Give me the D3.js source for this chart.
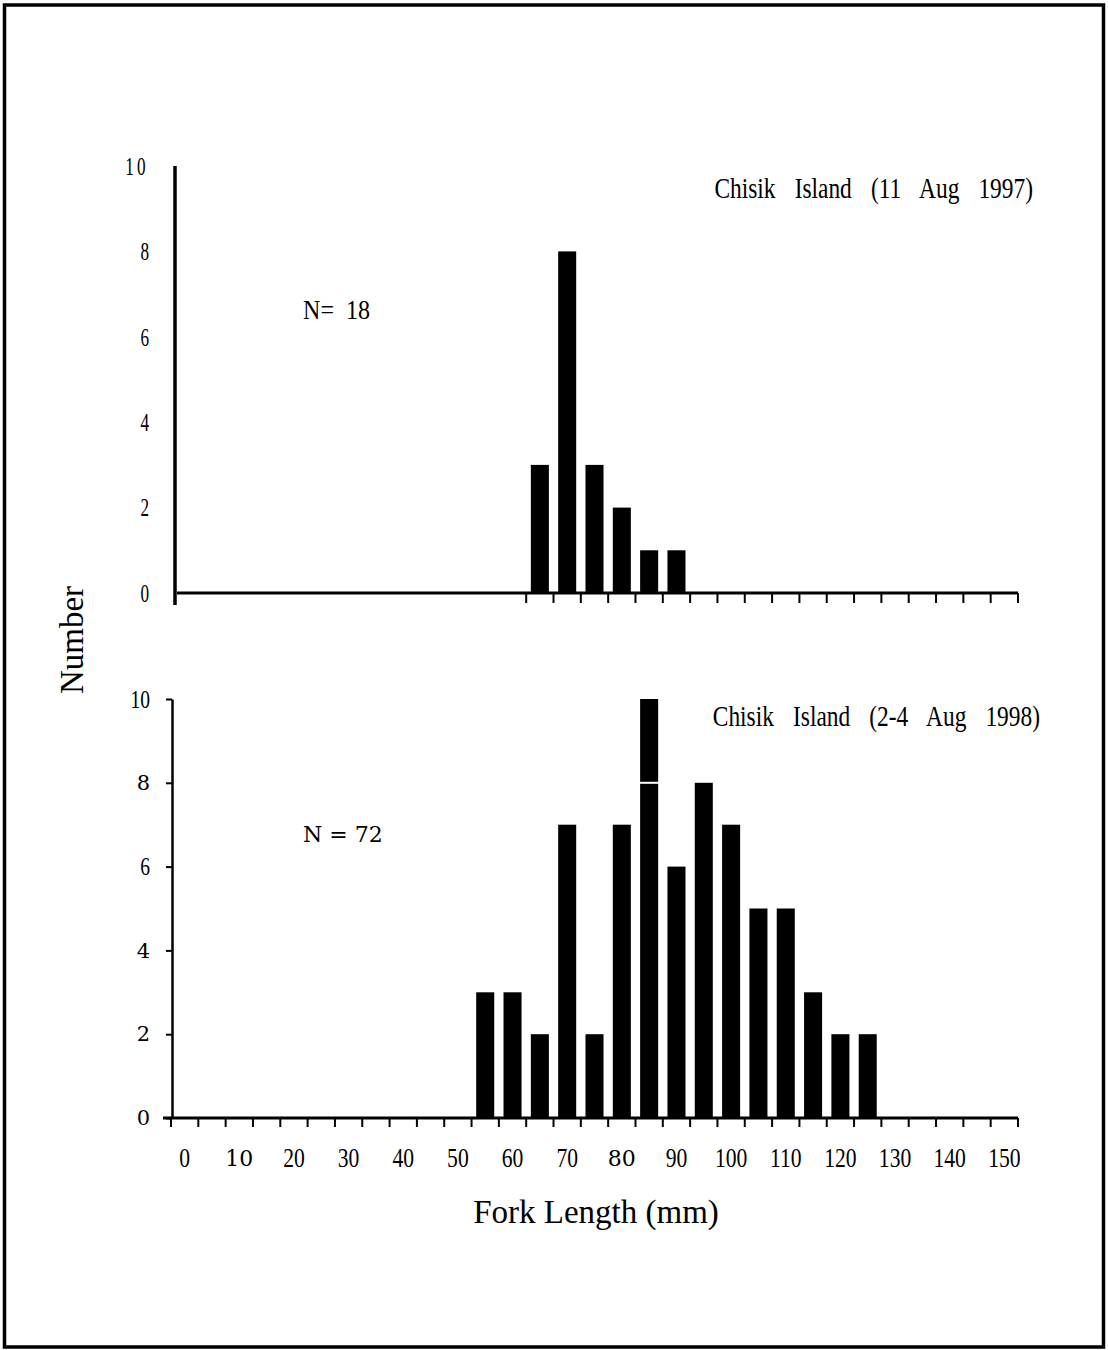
<!DOCTYPE html>
<html>
<head>
<meta charset="utf-8">
<script src="https://cdn.jsdelivr.net/npm/d3@7"></script>
<style>
  body { margin: 0; background: #fff; }
  svg { display: block; }
  text { font-family: "Liberation Serif", "Times New Roman", serif; fill: #000; }
</style>
</head>
<body>
<svg width="1108" height="1350"></svg>
<script>
// 5 mm fork-length bins (lower edge of each bin)
const bins = d3.range(0, 155, 5);
const binLabels = [0, 10, 20, 30, 40, 50, 60, 70, 80, 90, 100, 110, 120, 130, 140, 150];
const yTicks = [0, 2, 4, 6, 8, 10];

// Chisik Island, 11 Aug 1997
const lengths1997 = [65, 70, 75, 80, 85, 90];
const counts1997 = [3, 8, 3, 2, 1, 1];

// Chisik Island, 2-4 Aug 1998
const lengths1998 = [55, 60, 65, 70, 75, 80, 85, 90, 95, 100, 105, 110, 115, 120, 125];
const counts1998 = [3, 3, 2, 7, 2, 7, 10, 6, 8, 7, 5, 5, 3, 2, 2];

const svg = d3.select("svg");
const HEAVY_FONT = "\"DejaVu Serif\", serif";
const THIN_FONT = "\"Liberation Serif\", serif";

// page frame
svg.append("rect")
    .attr("x", 4.5).attr("y", 5)
    .attr("width", 1099).attr("height", 1342)
    .attr("fill", "none").attr("stroke", "#000").attr("stroke-width", 3.5);

const x = d3.scaleBand()
    .domain(bins)
    .range([171, 1018])
    .paddingInner(0.34)
    .paddingOuter(0.17);
const binStart = b => x(b) - x.step() * 0.17;
const xEnd = x.range()[1];

// condensed text helper: text drawn inside a translated group, squeezed horizontally
function squeezed(parent, px, py, str, size, sx, anchor) {
    return parent.append("g")
        .attr("transform", `translate(${px},${py})`)
        .append("text")
        .attr("transform", `scale(${sx},1)`)
        .attr("text-anchor", anchor || "start")
        .style("font-size", size + "px")
        .text(str);
}

// ---------- upper panel (1997) ----------
const yTop = d3.scaleLinear().domain([0, 10]).range([593, 166]);
const upper = svg.append("g");

upper.append("line")
    .attr("x1", 175).attr("x2", 175)
    .attr("y1", yTop(10)).attr("y2", yTop(0) + 12)
    .attr("stroke", "#000").attr("stroke-width", 3.5);

const upperAxis = upper.append("g")
    .attr("transform", "translate(149,0)")
    .call(d3.axisLeft(yTop).tickValues(yTicks).tickSize(0).tickPadding(0));
upperAxis.select(".domain").remove();
upperAxis.selectAll("text")
    .attr("transform", "scale(0.66,1)")
    .style("font-size", "26px")
    .style("letter-spacing", d => d >= 10 ? "5px" : null)
    .style("font-family", THIN_FONT);

upper.append("line")
    .attr("x1", 177).attr("x2", xEnd)
    .attr("y1", yTop(0)).attr("y2", yTop(0))
    .attr("stroke", "#000").attr("stroke-width", 3);

const upperEdges = bins.filter(b => b >= lengths1997[0]).map(binStart).concat([xEnd]);
upper.selectAll(".tick-mark")
    .data(upperEdges)
    .join("line")
    .attr("x1", d => d).attr("x2", d => d)
    .attr("y1", yTop(0)).attr("y2", yTop(0) + 10)
    .attr("stroke", "#000").attr("stroke-width", 2);

upper.selectAll(".bar")
    .data(lengths1997.map((l, i) => ({ l, c: counts1997[i] })))
    .join("rect")
    .attr("x", d => x(d.l))
    .attr("width", x.bandwidth())
    .attr("y", d => yTop(d.c))
    .attr("height", d => yTop(0) - yTop(d.c))
    .attr("fill", "#000");

squeezed(upper, 303, 319, "N=  18", 28, 0.86).attr("xml:space", "preserve");
squeezed(upper, 1033, 198, "Chisik Island (11 Aug 1997)", 30, 0.78, "end")
    .style("word-spacing", "17px");

// ---------- lower panel (1998) ----------
const yBot = d3.scaleLinear().domain([0, 10]).range([1118, 699]);
const lower = svg.append("g");

const heavyY = new Set([0, 2, 4, 8]);
const lowerAxis = lower.append("g")
    .attr("transform", "translate(172,0)")
    .call(d3.axisLeft(yBot).tickValues(yTicks).tickSize(6).tickSizeOuter(0).tickPadding(16));
lowerAxis.select(".domain").attr("stroke-width", 2.5);
lowerAxis.selectAll(".tick line").attr("stroke-width", 2);
lowerAxis.selectAll("text")
    .style("font-size", d => heavyY.has(d) ? "21px" : "25px")
    .style("font-family", d => heavyY.has(d) ? HEAVY_FONT : THIN_FONT)
    .attr("x", d => heavyY.has(d) ? -22 : -22 / 0.78)
    .attr("transform", d => heavyY.has(d) ? null : "scale(0.78,1)");

lower.append("line")
    .attr("x1", 163).attr("x2", xEnd)
    .attr("y1", yBot(0)).attr("y2", yBot(0))
    .attr("stroke", "#000").attr("stroke-width", 3);

lower.selectAll(".tick-mark")
    .data(bins.map(binStart).concat([xEnd]))
    .join("line")
    .attr("x1", d => d).attr("x2", d => d)
    .attr("y1", yBot(0)).attr("y2", yBot(0) + 9)
    .attr("stroke", "#000").attr("stroke-width", 2);

const heavyX = new Set([10, 80]);
const xAxis = lower.append("g")
    .attr("transform", `translate(0,${yBot(0)})`)
    .call(d3.axisBottom(x).tickValues(binLabels).tickSize(0));
xAxis.select(".domain").remove();
xAxis.selectAll("text")
    .attr("y", 40)
    .attr("dy", "0.35em")
    .style("font-size", d => heavyX.has(d) ? "22px" : "27px")
    .style("font-family", d => heavyX.has(d) ? HEAVY_FONT : THIN_FONT)
    .attr("transform", d => heavyX.has(d) ? null : "scale(0.8,1)");

const bars98 = lengths1998.map((l, i) => ({ l, c: counts1998[i] }));
lower.selectAll(".bar")
    .data(bars98)
    .join("rect")
    .attr("x", d => x(d.l))
    .attr("width", x.bandwidth())
    .attr("y", d => yBot(d.c))
    .attr("height", d => yBot(0) - yBot(d.c))
    .attr("fill", "#000");

// the tallest bar is built from two pieces, joined at 8
lower.selectAll(".seam")
    .data(bars98.filter(d => d.c > 8))
    .join("line")
    .attr("x1", d => x(d.l) - 1).attr("x2", d => x(d.l) + x.bandwidth() + 1)
    .attr("y1", yBot(8)).attr("y2", yBot(8))
    .attr("stroke", "#fff").attr("stroke-width", 2);

lower.append("text")
    .attr("x", 303).attr("y", 842)
    .style("font-size", "22px")
    .style("font-family", HEAVY_FONT)
    .text("N = 72");
squeezed(lower, 1040, 726, "Chisik Island (2-4 Aug 1998)", 30, 0.78, "end")
    .style("word-spacing", "17px");

// ---------- shared axis titles ----------
svg.append("text")
    .attr("transform", "translate(83,640) rotate(-90)")
    .attr("text-anchor", "middle")
    .style("font-size", "33px")
    .text("Number");

svg.append("text")
    .attr("x", 596).attr("y", 1223)
    .attr("text-anchor", "middle")
    .style("font-size", "33px")
    .text("Fork Length (mm)");
</script>
</body>
</html>
